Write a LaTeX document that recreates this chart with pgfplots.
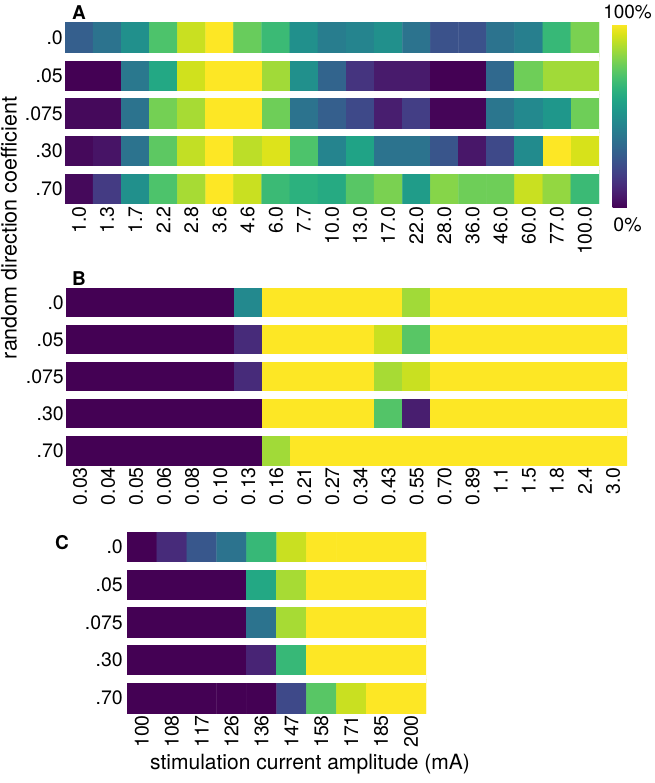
\documentclass[border=0pt]{standalone}
\usepackage{fontspec}
\setmainfont{TeX Gyre Heros}
\usepackage{pgfplots}
\pgfplotsset{compat=1.18}
\newcommand{\fs}{\fontsize{19.5}{21}\selectfont}
\pgfplotsset{
  hm/.style={
    scale only axis,
    anchor=north west,
    height=181pt,
    ymin=-0.4, ymax=4.4,
    xmin=-0.5,
    point meta min=0, point meta max=1,
    colormap/viridis,
    axis line style={draw=none},
    major tick length=0pt, minor tick length=0pt,
    ytick={0,1,2,3,4},
    yticklabels={.70,.30,.075,.05,.0},
    minor ytick={0.5,1.5,2.5,3.5},
    yminorgrids=true,
    minor grid style={draw=white, line width=7.6pt},
    axis on top,
    tick label style={font=\fs},
    yticklabel style={inner xsep=2pt},
    xticklabel style={rotate=90, anchor=east, inner xsep=2pt},
    /pgf/number format/assume math mode=true,
  },
  cells/.style={matrix plot*, shader=faceted, faceted color=mapped color, point meta=explicit},
}
\begin{document}
\begin{tikzpicture}[x=1pt,y=1pt]
\path[use as bounding box] (0,0) rectangle (654,-783);

% ---------------- Panel A ----------------
\begin{axis}[hm, at={(65pt,-23pt)}, width=534pt, xmax=18.5,
  xtick={0,...,18},
  xticklabels={1.0,1.3,1.7,2.2,2.8,3.6,4.6,6.0,7.7,10.0,13.0,17.0,22.0,28.0,36.0,46.0,60.0,77.0,100.0},
  colorbar,
  colorbar style={at={(parent axis.north east)}, anchor=north west, xshift=5pt, yshift=-1pt,
    width=30pt, height=184pt, scale only axis, ytick=\empty, axis line style={draw=none},
    extra description/.code={
      \node[font=\fontsize{19}{20}\selectfont, anchor=south, inner sep=0pt, yshift=5pt] at (0.5,1) {100\%};
      \node[font=\fs, anchor=north, inner sep=0pt, yshift=-9pt] at (0.5,0) {0\%};
    }},
]
\addplot[cells, mesh/cols=19] coordinates {
(0,0)[0.02] (1,0)[0.17] (2,0)[0.50] (3,0)[0.72] (4,0)[0.87] (5,0)[1.00] (6,0)[0.92] (7,0)[0.68] (8,0)[0.64] (9,0)[0.61] (10,0)[0.74] (11,0)[0.80] (12,0)[0.55] (13,0)[0.82] (14,0)[0.78] (15,0)[0.78] (16,0)[0.92] (17,0)[0.84] (18,0)[0.68]

(0,1)[0.02] (1,1)[0.05] (2,1)[0.38] (3,1)[0.75] (4,1)[0.91] (5,1)[1.00] (6,1)[0.90] (7,1)[0.95] (8,1)[0.72] (9,1)[0.45] (10,1)[0.58] (11,1)[0.38] (12,1)[0.38] (13,1)[0.26] (14,1)[0.06] (15,1)[0.22] (16,1)[0.48] (17,1)[1.00] (18,1)[0.94]

(0,2)[0.02] (1,2)[0.02] (2,2)[0.38] (3,2)[0.79] (4,2)[0.87] (5,2)[1.00] (6,2)[1.00] (7,2)[0.78] (8,2)[0.38] (9,2)[0.30] (10,2)[0.22] (11,2)[0.08] (12,2)[0.18] (13,2)[0.01] (14,2)[0.01] (15,2)[0.39] (16,2)[0.47] (17,2)[0.53] (18,2)[0.78]

(0,3)[0.00] (1,3)[0.00] (2,3)[0.40] (3,3)[0.60] (4,3)[0.93] (5,3)[1.00] (6,3)[1.00] (7,3)[0.86] (8,3)[0.50] (9,3)[0.32] (10,3)[0.15] (11,3)[0.07] (12,3)[0.07] (13,3)[0.00] (14,3)[0.00] (15,3)[0.34] (16,3)[0.78] (17,3)[0.86] (18,3)[0.86]

(0,4)[0.30] (1,4)[0.38] (2,4)[0.50] (3,4)[0.72] (4,4)[0.92] (5,4)[1.00] (6,4)[0.77] (7,4)[0.68] (8,4)[0.50] (9,4)[0.42] (10,4)[0.45] (11,4)[0.50] (12,4)[0.38] (13,4)[0.25] (14,4)[0.25] (15,4)[0.38] (16,4)[0.43] (17,4)[0.67] (18,4)[0.80]
};
\end{axis}

% ---------------- Panel B ----------------
\begin{axis}[hm, at={(66pt,-288pt)}, width=561pt, height=177pt, xmax=19.5,
  xtick={0,...,19},
  xticklabels={0.03,0.04,0.05,0.06,0.08,0.10,0.13,0.16,0.21,0.27,0.34,0.43,0.55,0.70,0.89,1.1,1.5,1.8,2.4,3.0},
]
\addplot[cells, mesh/cols=20] coordinates {
(0,0)[0] (1,0)[0] (2,0)[0] (3,0)[0] (4,0)[0] (5,0)[0] (6,0)[0] (7,0)[0.86] (8,0)[1] (9,0)[1] (10,0)[1] (11,0)[1] (12,0)[1] (13,0)[1] (14,0)[1] (15,0)[1] (16,0)[1] (17,0)[1] (18,0)[1] (19,0)[1]

(0,1)[0] (1,1)[0] (2,1)[0] (3,1)[0] (4,1)[0] (5,1)[0] (6,1)[0] (7,1)[1] (8,1)[1] (9,1)[1] (10,1)[1] (11,1)[0.73] (12,1)[0.08] (13,1)[1] (14,1)[1] (15,1)[1] (16,1)[1] (17,1)[1] (18,1)[1] (19,1)[1]

(0,2)[0] (1,2)[0] (2,2)[0] (3,2)[0] (4,2)[0] (5,2)[0] (6,2)[0.12] (7,2)[1] (8,2)[1] (9,2)[1] (10,2)[1] (11,2)[0.87] (12,2)[0.92] (13,2)[1] (14,2)[1] (15,2)[1] (16,2)[1] (17,2)[1] (18,2)[1] (19,2)[1]

(0,3)[0] (1,3)[0] (2,3)[0] (3,3)[0] (4,3)[0] (5,3)[0] (6,3)[0.12] (7,3)[1] (8,3)[1] (9,3)[1] (10,3)[1] (11,3)[0.92] (12,3)[0.74] (13,3)[1] (14,3)[1] (15,3)[1] (16,3)[1] (17,3)[1] (18,3)[1] (19,3)[1]

(0,4)[0] (1,4)[0] (2,4)[0] (3,4)[0] (4,4)[0] (5,4)[0] (6,4)[0.47] (7,4)[1] (8,4)[1] (9,4)[1] (10,4)[1] (11,4)[1] (12,4)[0.86] (13,4)[1] (14,4)[1] (15,4)[1] (16,4)[1] (17,4)[1] (18,4)[1] (19,4)[1]
};
\end{axis}

% ---------------- Panel C ----------------
\begin{axis}[hm, at={(127pt,-532pt)}, width=299pt, xmax=9.5,
  xtick={0,...,9},
  xticklabels={100,108,117,126,136,147,158,171,185,200},
  yticklabel style={inner xsep=4pt},
]
\addplot[cells, mesh/cols=10] coordinates {
(0,0)[0] (1,0)[0] (2,0)[0] (3,0)[0] (4,0)[0] (5,0)[0.22] (6,0)[0.74] (7,0)[0.92] (8,0)[1] (9,0)[1]

(0,1)[0] (1,1)[0] (2,1)[0] (3,1)[0] (4,1)[0.10] (5,1)[0.67] (6,1)[1] (7,1)[1] (8,1)[1] (9,1)[1]

(0,2)[0] (1,2)[0] (2,2)[0] (3,2)[0] (4,2)[0.38] (5,2)[0.87] (6,2)[1] (7,2)[1] (8,2)[1] (9,2)[1]

(0,3)[0] (1,3)[0] (2,3)[0] (3,3)[0] (4,3)[0.60] (5,3)[0.87] (6,3)[1] (7,3)[1] (8,3)[1] (9,3)[1]

(0,4)[0] (1,4)[0.12] (2,4)[0.27] (3,4)[0.38] (4,4)[0.67] (5,4)[0.92] (6,4)[1] (7,4)[1] (8,4)[1] (9,4)[1]
};
\end{axis}

% ---------------- Labels ----------------
\node[font=\fontsize{19}{20}\selectfont\bfseries] at (79,-12.5) {A};
\node[font=\fontsize{19}{20}\selectfont\bfseries] at (79,-279) {B};
\node[font=\fontsize{19}{20}\selectfont\bfseries] at (62,-543) {C};
\node[font=\fontsize{21.5}{23}\selectfont, rotate=90] at (9,-228) {random direction coefficient};
\node[font=\fontsize{21}{23}\selectfont] at (310,-764) {stimulation current amplitude (mA)};
\end{tikzpicture}
\end{document}
